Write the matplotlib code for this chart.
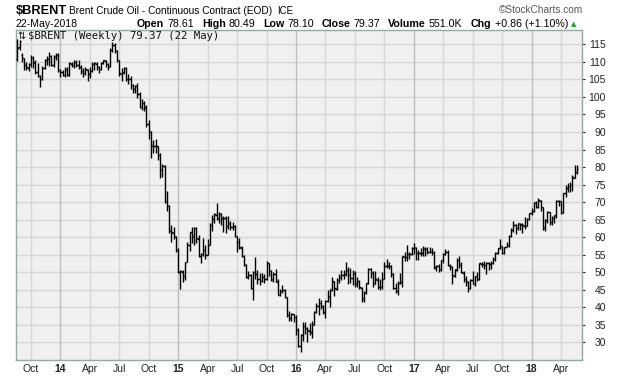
import numpy as np
import pandas as pd
import matplotlib
matplotlib.use("Agg")
import matplotlib.pyplot as plt

# weekly bars, week of 26-Aug-2013 to week of 21-May-2018
first_week = "2013-08-26"

opens = [
    # 2013
    110.9, 114.2, 112.0, 111.0, 109.0, 108.4, 109.4, 111.2, 109.9, 107.0, 105.9, 105.0, 108.4, 110.6, 110.8, 111.6, 109.0, 111.5, 112.0,
    # 2014
    107.8, 107.0, 106.4, 107.8, 106.2, 109.5, 109.0, 109.8, 109.2, 108.6, 107.4, 106.9, 107.8, 106.5, 107.5, 109.5, 109.5, 108.5, 107.9, 109.8,
    110.3, 109.3, 108.7, 113.4, 114.8, 113.2, 110.5, 106.6, 107.2, 108.3, 105.0, 105.0, 103.5, 102.3, 103.0, 100.8, 97.1, 98.4, 96.8, 92.2,
    90.1, 86.0, 86.0, 85.9, 83.3, 79.3, 80.2, 70.1, 69.0, 61.8, 61.3, 60.1,
    # 2015
    56.4, 50.1, 50.0, 48.8, 53.0, 57.8, 61.5, 60.1, 62.5, 59.6, 54.6, 55.3, 56.3, 55.0, 57.8, 63.4, 65.2, 66.4, 65.3, 66.7,
    65.3, 65.5, 63.2, 63.8, 62.9, 63.2, 60.2, 58.6, 57.0, 54.5, 52.1, 48.6, 49.1, 45.4, 50.0, 49.5, 48.0, 47.4, 48.5, 48.0,
    52.6, 50.4, 47.9, 49.5, 47.3, 43.5, 44.6, 44.8, 42.9, 37.8, 36.9, 38.0,
    # 2016
    37.3, 33.5, 28.9, 32.1, 34.6, 34.0, 33.3, 32.9, 35.0, 38.6, 40.3, 41.1, 40.3, 38.6, 41.8, 43.0, 45.0, 47.3, 45.3, 47.7,
    48.6, 49.2, 49.5, 50.4, 49.1, 48.3, 49.6, 46.7, 47.5, 45.6, 42.4, 44.2, 46.9, 50.8, 49.8, 46.7, 47.9, 45.7, 45.8, 48.1,
    51.8, 51.9, 51.7, 49.6, 45.5, 44.7, 46.8, 47.1, 54.4, 54.2, 55.1, 55.1,
    # 2017
    56.8, 57.0, 55.4, 55.4, 55.4, 56.7, 56.6, 55.7, 55.9, 55.8, 51.3, 51.7, 50.7, 53.4, 55.1, 55.8, 51.9, 51.6, 49.0, 50.7,
    53.5, 52.1, 49.9, 48.1, 47.3, 45.4, 47.8, 46.6, 48.8, 48.0, 52.4, 52.3, 52.0, 52.6, 52.3, 52.7, 53.7, 55.5, 56.8, 57.4,
    55.5, 57.1, 57.7, 60.3, 62.0, 63.4, 62.6, 63.8, 63.6, 63.3, 63.1, 65.2,
    # 2018
    66.8, 67.5, 69.8, 68.5, 70.4, 68.5, 62.7, 64.7, 67.2, 64.3, 65.4, 66.1, 70.4, 70.2, 67.0, 72.5, 74.0, 74.5, 74.8, 77.0, 78.6,
]

highs = [
    116.4, 116.3, 112.5, 111.0, 110.0, 109.8, 111.9, 111.6, 110.4, 109.6, 106.4, 108.9, 110.8, 111.6, 112.8, 111.9, 111.9, 112.4, 112.6,
    107.9, 107.6, 108.6, 108.5, 110.0, 110.1, 110.6, 110.4, 110.6, 109.1, 108.4, 108.5, 108.0, 108.5, 110.1, 110.1, 110.0, 108.9, 110.1, 110.6,
    110.5, 109.6, 113.9, 115.7, 115.3, 113.5, 110.6, 108.3, 108.6, 108.6, 106.6, 105.9, 103.6, 103.4, 103.9, 101.5, 99.4, 98.9, 97.6, 93.3,
    90.4, 87.6, 88.0, 86.0, 84.1, 81.0, 80.5, 73.2, 69.3, 63.6, 62.8, 60.3,
    56.9, 50.5, 50.5, 53.0, 58.7, 61.6, 63.0, 63.0, 62.9, 60.6, 55.4, 59.7, 57.9, 59.5, 64.0, 66.3, 66.9, 69.6, 67.2, 66.8,
    65.9, 65.9, 66.1, 64.7, 64.2, 63.6, 60.3, 59.8, 57.5, 54.9, 52.2, 50.3, 49.4, 50.2, 54.3, 50.5, 49.8, 49.9, 49.4, 53.1,
    52.7, 50.6, 50.0, 50.9, 48.0, 45.2, 46.4, 45.3, 43.0, 38.9, 38.3, 38.1,
    37.9, 34.0, 32.3, 35.8, 35.9, 34.4, 35.6, 36.1, 38.9, 41.1, 42.5, 42.0, 40.7, 42.1, 45.0, 45.3, 48.5, 47.4, 48.4, 49.4,
    50.5, 50.5, 52.9, 51.5, 51.1, 50.6, 50.4, 48.5, 47.8, 45.7, 44.6, 47.0, 51.2, 51.2, 50.2, 50.2, 48.6, 48.0, 50.0, 52.8,
    53.7, 52.8, 52.1, 49.7, 47.0, 47.6, 49.8, 54.5, 55.8, 57.9, 55.9, 57.1,
    58.4, 57.2, 56.4, 57.0, 57.4, 57.1, 57.2, 57.1, 56.9, 56.1, 52.0, 52.3, 53.6, 55.4, 56.6, 56.3, 52.3, 51.8, 51.0, 54.0,
    54.7, 52.9, 50.4, 48.8, 47.5, 48.2, 50.2, 49.0, 50.0, 52.6, 53.0, 53.2, 52.8, 53.0, 53.1, 54.4, 55.7, 56.9, 59.5, 57.5,
    57.3, 58.5, 60.5, 62.5, 64.7, 63.8, 64.1, 64.0, 63.9, 65.8, 65.5, 67.0,
    68.3, 70.1, 70.4, 71.3, 70.6, 68.7, 65.1, 67.5, 67.3, 66.0, 66.4, 70.6, 70.7, 70.3, 72.7, 74.8, 75.5, 75.6, 77.8, 80.5, 80.49,
]

lows = [
    110.3, 113.3, 110.1, 107.7, 107.6, 107.4, 108.6, 108.3, 106.6, 105.6, 102.8, 104.9, 107.9, 109.1, 108.7, 108.9, 108.6, 110.6, 107.1,
    105.8, 105.9, 105.8, 106.0, 105.9, 108.5, 108.4, 108.5, 107.9, 106.6, 105.7, 106.2, 104.6, 105.3, 107.2, 107.6, 107.7, 106.8, 107.6, 109.3,
    108.6, 107.8, 108.5, 112.8, 112.6, 110.1, 105.9, 104.6, 106.5, 104.6, 103.7, 102.2, 101.0, 101.2, 99.6, 96.8, 96.2, 95.9, 91.5, 88.1,
    82.6, 84.0, 84.1, 82.1, 76.8, 77.2, 69.8, 67.5, 61.2, 58.5, 59.5, 55.7,
    49.7, 45.2, 47.3, 47.9, 52.8, 56.1, 58.2, 57.9, 58.3, 54.2, 52.5, 54.6, 53.9, 54.8, 57.7, 61.8, 64.0, 64.9, 63.9, 63.6,
    61.6, 61.3, 62.2, 61.9, 62.0, 60.0, 55.9, 56.5, 54.3, 51.8, 48.3, 48.2, 45.1, 42.2, 48.0, 46.7, 46.4, 47.1, 47.0, 47.9,
    48.9, 47.5, 47.2, 47.2, 43.4, 43.3, 44.1, 42.7, 37.3, 36.1, 36.0, 35.9,
    32.2, 28.6, 27.1, 30.4, 32.5, 30.0, 32.2, 31.2, 35.0, 38.3, 37.9, 39.5, 38.2, 37.0, 41.4, 40.1, 44.5, 43.2, 44.8, 47.0,
    47.8, 48.0, 49.0, 46.6, 46.8, 46.4, 45.8, 45.7, 45.2, 41.5, 41.5, 43.7, 46.5, 48.4, 45.9, 46.6, 45.3, 44.9, 45.3, 48.0,
    51.1, 50.9, 48.6, 45.2, 44.2, 43.6, 46.6, 45.9, 53.1, 53.1, 53.8, 55.0,
    55.1, 53.6, 53.6, 54.6, 54.5, 54.6, 55.1, 55.5, 54.8, 51.0, 50.3, 50.1, 50.3, 52.7, 55.0, 51.8, 50.6, 46.6, 48.5, 50.4,
    51.1, 49.7, 47.2, 46.2, 44.35, 45.2, 46.5, 46.1, 47.5, 47.8, 51.4, 50.8, 49.5, 50.7, 50.8, 52.4, 53.1, 55.1, 56.7, 55.3,
    55.2, 57.1, 57.2, 59.9, 61.5, 61.0, 61.9, 62.0, 61.1, 62.3, 63.1, 64.9,
    66.3, 67.2, 68.2, 68.4, 67.4, 62.1, 61.8, 64.0, 63.6, 63.6, 63.9, 65.6, 68.9, 66.6, 66.8, 71.5, 72.8, 72.8, 73.3, 77.0, 78.1,
]

closes = [
    114.0, 115.9, 111.2, 109.0, 108.6, 109.5, 111.3, 109.8, 107.0, 105.9, 105.1, 108.4, 110.6, 110.8, 111.6, 109.1, 111.6, 112.1, 107.8,
    107.2, 106.4, 107.9, 106.4, 109.6, 109.1, 109.9, 109.1, 108.6, 107.4, 106.9, 107.9, 106.7, 107.4, 109.5, 109.6, 108.6, 107.9, 109.8, 110.4,
    109.4, 108.6, 113.4, 114.8, 113.3, 110.6, 106.7, 107.2, 108.4, 105.0, 105.0, 103.5, 102.3, 103.2, 100.8, 97.1, 98.4, 97.0, 92.3, 90.2,
    86.2, 86.1, 85.9, 83.4, 79.4, 80.4, 70.2, 69.1, 61.9, 61.4, 60.2, 56.4,
    50.1, 50.2, 48.8, 53.0, 57.8, 61.5, 60.2, 62.6, 59.7, 54.7, 55.3, 56.4, 55.0, 57.9, 63.5, 65.3, 66.5, 65.4, 66.8, 65.4,
    65.6, 63.3, 63.9, 63.0, 63.3, 60.3, 58.7, 57.1, 54.6, 52.2, 48.6, 49.2, 45.5, 50.1, 49.6, 48.1, 47.5, 48.6, 48.1, 52.65,
    50.5, 48.0, 49.6, 47.4, 43.6, 44.7, 44.9, 43.0, 37.9, 36.9, 38.1, 37.3,
    33.55, 28.9, 32.2, 34.7, 34.1, 33.4, 33.0, 35.1, 38.7, 40.4, 41.2, 40.4, 38.7, 41.9, 43.1, 45.1, 47.4, 45.4, 47.8, 48.7,
    49.3, 49.6, 50.5, 49.2, 48.4, 49.7, 46.8, 47.6, 45.7, 42.5, 44.3, 47.0, 50.9, 49.9, 46.8, 48.0, 45.8, 45.9, 48.2, 51.9,
    51.95, 51.8, 49.7, 45.6, 44.75, 46.9, 47.2, 54.5, 54.3, 55.2, 55.2, 56.8,
    57.1, 55.45, 55.5, 55.5, 56.8, 56.7, 55.8, 56.0, 55.9, 51.4, 51.8, 50.8, 53.5, 55.2, 55.9, 52.0, 51.7, 49.1, 50.8, 53.6,
    52.15, 49.95, 48.15, 47.4, 45.5, 47.9, 46.7, 48.9, 48.1, 52.5, 52.4, 52.1, 52.7, 52.4, 52.75, 53.8, 55.6, 56.9, 57.5, 55.6,
    57.2, 57.75, 60.4, 62.1, 63.5, 62.7, 63.9, 63.7, 63.4, 63.2, 65.25, 66.9,
    67.6, 69.9, 68.6, 70.5, 68.6, 62.8, 64.8, 67.3, 64.4, 65.5, 66.2, 70.45, 70.3, 67.1, 72.6, 74.1, 74.6, 74.9, 77.1, 78.5, 79.37,
]

price_ticks = list(range(30, 120, 5))
quarter_months = [1, 4, 7, 10]

quote_row = [("Open", "78.61"), ("High", "80.49"), ("Low", "78.10"),
             ("Close", "79.37"), ("Volume", "551.0K"), ("Chg", "+0.86 (+1.10%)")]

dates = pd.date_range(first_week, periods=len(closes), freq="W-MON")
x = np.arange(len(closes))

W, H = 620, 376
fig = plt.figure(figsize=(W / 100, H / 100), dpi=100, facecolor="white")
renderer = fig.canvas.get_renderer()


def fpos(px, py):
    return px / W, 1 - py / H


def fit_text(px, py, txt, width, **kw):
    # put a text at pixel (px, baseline py) and size it to a pixel width
    t = fig.text(*fpos(px, py), txt, fontsize=10, va="baseline", **kw)
    w = t.get_window_extent(renderer).width
    t.set_fontsize(10 * width / w)
    return t


ax = fig.add_axes([16 / W, 1 - 360 / H, (582.3 - 16) / W, (360 - 30) / H])
ax.set_facecolor("#f0f0f0")
for s in ax.spines.values():
    s.set_color("#93aca3")
    s.set_linewidth(1.0)

ax.set_xlim(-0.6, 249.4)
ax.set_ylim(24.95, 119.1)

# quarterly gridlines, darker at year boundaries
tick_idx, tick_lab, tick_year = [], [], []
for i in range(1, len(dates)):
    m = dates[i].month
    if m != dates[i - 1].month and m in quarter_months:
        tick_idx.append(i)
        if m == 1:
            tick_lab.append(dates[i].strftime("%y"))
            tick_year.append(True)
        else:
            tick_lab.append(dates[i].strftime("%b"))
            tick_year.append(False)
for i, yr in zip(tick_idx, tick_year):
    ax.axvline(i, color="#bdbdbd" if yr else "#d6d6d6", lw=1.0, zorder=1)

ax.set_yticks(price_ticks)
ax.yaxis.grid(True, color="#d6d6d6", lw=1.0, zorder=1)
ax.set_axisbelow(True)

ax.vlines(x, lows, highs, color="black", lw=1.0, zorder=3)
ax.hlines(opens, x - 0.6, x, color="black", lw=1.0, zorder=3)
ax.hlines(closes, x, x + 0.6, color="black", lw=1.0, zorder=3)

ax.set_xticks(tick_idx)
ax.set_xticklabels(tick_lab)
for t, yr in zip(ax.get_xticklabels(), tick_year):
    t.set_fontfamily("Liberation Sans")
    t.set_fontsize(7.5)
    if yr:
        t.set_fontweight("bold")
ax.tick_params(axis="x", length=0, pad=3, colors="#222222")

ax.yaxis.tick_right()
ax.tick_params(axis="y", length=2, pad=14.9, colors="#222222", direction="out")
for t in ax.get_yticklabels():
    t.set_fontfamily("Liberation Sans")
    t.set_fontsize(7.5)
    t.set_horizontalalignment("right")

hdr = ["Liberation Sans", "DejaVu Sans"]

# header line 1
fit_text(16, 14, "$BRENT", 50.7, fontweight="bold", family=hdr)
fit_text(69, 14, "Brent Crude Oil - Continuous Contract (EOD)", 204, family=hdr)
fit_text(277, 14, "ICE", 16, family=hdr)
fit_text(499, 13, "\u00a9StockCharts.com", 85, family=hdr, color="#555555")

# header line 2
fit_text(16, 27, "22-May-2018", 62, family=hdr)
pieces = []
for lab, val in quote_row:
    pieces.append(fig.text(0, 0, lab, fontsize=8.5, fontweight="bold", family=hdr, va="baseline"))
    pieces.append(fig.text(0, 0, val, fontsize=8.5, family=hdr, va="baseline"))
gaps = [3 if k % 2 == 0 else 8 for k in range(len(pieces) - 1)]
widths = [p.get_window_extent(renderer).width for p in pieces]
scale = (568 - 137 - sum(gaps)) / sum(widths)
cur = 137
for k, p in enumerate(pieces):
    p.set_fontsize(8.5 * scale)
    p.set_position(fpos(cur, 27))
    cur += widths[k] * scale + (gaps[k] if k < len(gaps) else 0)
fig.text(*fpos(571, 26.5), "\u25b2", fontsize=5, color="#1aa01a", va="baseline")

# legend line inside the chart
fig.text(*fpos(17, 39), "\u21c5", fontsize=7, family=["DejaVu Sans"], va="baseline", color="#111111")
fit_text(28, 39, "$BRENT (Weekly) 79.37 (22 May)", 192, family=["DejaVu Sans Mono"], color="#111111")

fig.savefig("out.png", dpi=100, facecolor="white")
